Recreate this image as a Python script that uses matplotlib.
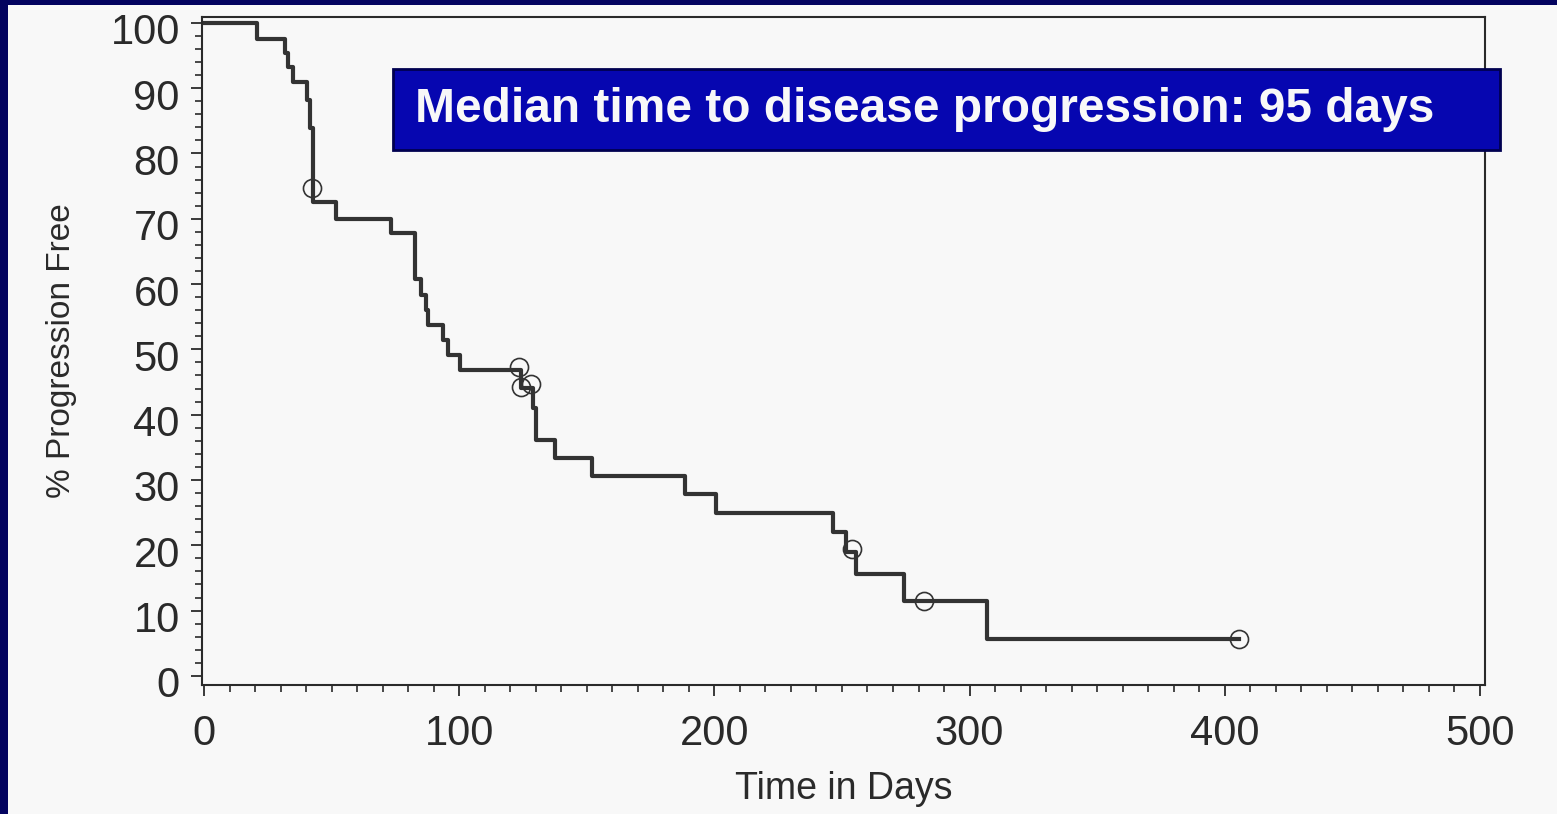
import matplotlib
matplotlib.use("Agg")
import matplotlib.pyplot as plt
from matplotlib.patches import Rectangle
from matplotlib.ticker import MultipleLocator
from matplotlib.transforms import ScaledTranslation

# Kaplan-Meier steps (day, % progression free after the drop)
event_days = [0, 20.6, 31.7, 33.0, 35.0, 40.2, 41.5, 42.7, 51.9, 73.4, 82.6, 85.2,
              87.1, 87.7, 93.7, 95.6, 100.2, 124.4, 128.9, 130.0, 137.4, 152.0,
              188.3, 200.7, 246.6, 251.6, 255.4, 274.4, 307.0, 405.4]
pct_free = [100, 97.5, 95.4, 93.2, 91.0, 88.2, 83.9, 72.6, 70.0, 67.8, 60.7, 58.3,
            56.0, 53.7, 51.5, 49.2, 46.8, 44.1, 41.0, 36.1, 33.4, 30.6,
            27.9, 25.0, 22.1, 19.0, 15.6, 11.5, 5.6, 5.6]

# censored observations (circles)
cens_days = [42.3, 123.5, 124.4, 128.0, 254.1, 282.2, 405.4]
cens_pct = [74.7, 47.3, 44.2, 44.7, 19.5, 11.5, 5.6]

x_ticks = [0, 100, 200, 300, 400, 500]
y_ticks = [0, 10, 20, 30, 40, 50, 60, 70, 80, 90, 100]
title_text = "Median time to disease progression: 95 days"

navy = "#03035f"
paper = "#f8f8f8"
ink = "#2a2a2a"

fig = plt.figure(figsize=(15.57, 8.14), dpi=100)
fig.patch.set_facecolor(navy)

# scanned page area
fig.add_artist(Rectangle((8 / 1557, 0), 1, 1 - 5 / 814, transform=fig.transFigure,
                         facecolor=paper, edgecolor="none", zorder=-1))

ax = fig.add_axes([202 / 1557, 1 - 685 / 814, 1283 / 1557, 668 / 814])
ax.set_facecolor(paper)

ax.step(event_days, pct_free, where="post", color="#333333", linewidth=3.0)
ax.plot(cens_days, cens_pct, "o", markersize=13, markerfacecolor="none",
        markeredgecolor="#333333", markeredgewidth=1.2)

ax.set_xlim(-0.8, 502)
ax.set_ylim(-1.4, 100.9)
ax.set_xticks(x_ticks)
ax.set_yticks(y_ticks)
ax.xaxis.set_minor_locator(MultipleLocator(10))
ax.yaxis.set_minor_locator(MultipleLocator(2))

for s in ax.spines.values():
    s.set_color(ink)
    s.set_linewidth(1.5)

ax.tick_params(which="major", direction="out", length=8, width=1.3, color=ink,
               labelsize=30, labelcolor=ink)
ax.tick_params(which="minor", direction="out", length=5, width=1.2, color=ink)
ax.tick_params(axis="x", pad=13)
ax.tick_params(axis="y", pad=8)
shift = ScaledTranslation(0, -6 / 100, fig.dpi_scale_trans)
for lab in ax.get_xticklabels() + ax.get_yticklabels():
    lab.set_fontfamily("Liberation Sans")
for lab in ax.get_yticklabels():
    lab.set_transform(lab.get_transform() + shift)

ax.set_xlabel("Time in Days", fontsize=27, color=ink, family="Liberation Sans", labelpad=12)
ax.set_ylabel("% Progression Free", fontsize=24, color=ink, family="Liberation Sans", labelpad=24)

# highlighted median box
fig.add_artist(Rectangle((393 / 1557, 1 - 150 / 814), 1107 / 1557, 81 / 814,
                         transform=fig.transFigure, facecolor="#0606b0",
                         edgecolor="#000050", linewidth=2, zorder=5))
fig.text(415 / 1557, 1 - 109 / 814, title_text, color="#f8f8f8", fontsize=34.5,
         fontweight="bold", family="Liberation Sans", ha="left", va="center", zorder=6)

fig.savefig("out.png", dpi=100, facecolor=navy)
